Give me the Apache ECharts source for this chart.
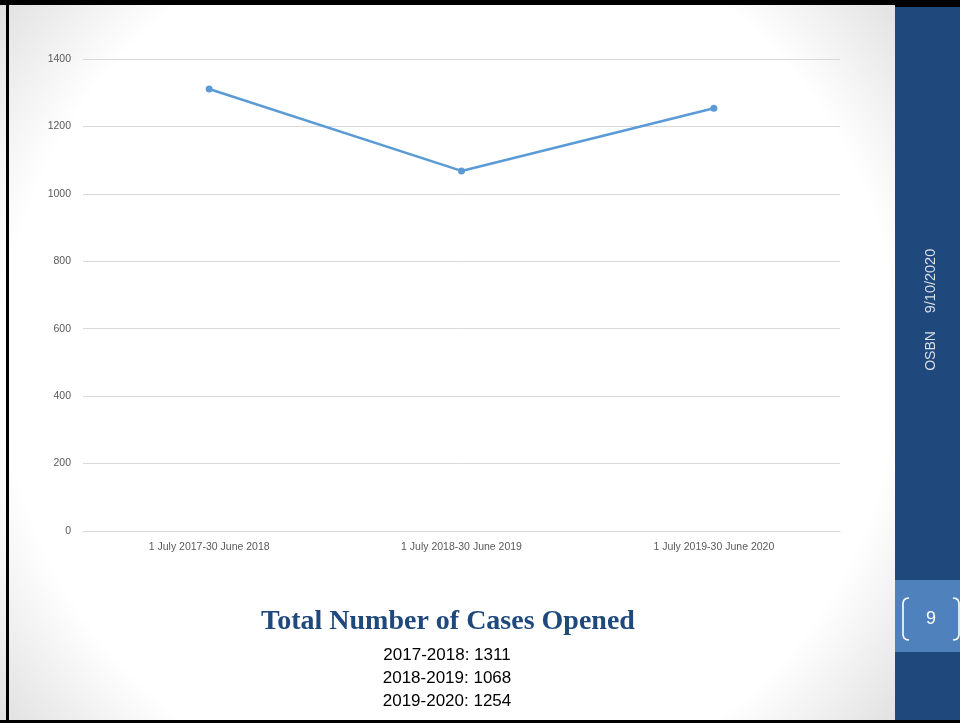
<!DOCTYPE html>
<html>
<head>
<meta charset="utf-8">
<script src="https://cdn.jsdelivr.net/npm/echarts@6/dist/echarts.min.js"></script>
<style>
html,body{margin:0;padding:0;background:#fff;}
#chart{width:960px;height:723px;}
</style>
</head>
<body>
<div id="chart"></div>
<script>
const categories = ['1 July 2017-30 June 2018', '1 July 2018-30 June 2019', '1 July 2019-30 June 2020'];
const casesOpened = [1311, 1068, 1254];
const yTicks = [0, 200, 400, 600, 800, 1000, 1200, 1400];
const titleText = 'Total Number of Cases Opened';
const summaryLines = ['2017-2018: 1311', '2018-2019: 1068', '2019-2020: 1254'];
const footerOrg = 'OSBN';
const footerDate = '9/10/2020';
const pageNumber = '9';

const chart = echarts.init(document.getElementById('chart'), null, {renderer: 'canvas'});

const graphics = [
  {type: 'rect', z: -10, silent: true, shape: {x: 0, y: 0, width: 960, height: 723},
   style: {fill: {type: 'radial', x: 450, y: 360, r: 620, global: true,
     colorStops: [{offset: 0, color: '#ffffff'}, {offset: 0.72, color: '#ffffff'}, {offset: 1, color: '#d6d6d6'}]}}},
  // sidebar
  {type: 'rect', z: 5, silent: true, shape: {x: 895, y: 0, width: 65, height: 723}, style: {fill: '#1F497D'}},
  {type: 'rect', z: 6, silent: true, shape: {x: 895, y: 580, width: 65, height: 72}, style: {fill: '#4F81BD'}},
  // border
  {type: 'rect', z: 20, silent: true, shape: {x: 0, y: 0, width: 895, height: 5}, style: {fill: '#000'}},
  {type: 'rect', z: 20, silent: true, shape: {x: 895, y: 0, width: 65, height: 7}, style: {fill: '#000'}},
  {type: 'rect', z: 20, silent: true, shape: {x: 6, y: 0, width: 3, height: 723}, style: {fill: '#000'}},
  {type: 'rect', z: 20, silent: true, shape: {x: 0, y: 720, width: 960, height: 3}, style: {fill: '#000'}},
  // rotated footer text
  {type: 'text', z: 10, silent: true, x: 931, y: 281, rotation: Math.PI / 2,
   style: {text: footerDate, fill: '#dcdfe6', font: '14.5px "Liberation Sans", sans-serif', align: 'center', verticalAlign: 'middle'}},
  {type: 'text', z: 10, silent: true, x: 931, y: 351, rotation: Math.PI / 2,
   style: {text: footerOrg, fill: '#dcdfe6', font: '14px "Liberation Sans", sans-serif', align: 'center', verticalAlign: 'middle'}},
  // page number brackets
  {type: 'polyline', z: 10, silent: true,
   shape: {points: [[909, 598], [906, 598.5], [904, 600], [903, 603], [903, 635], [904, 638], [906, 639.5], [909, 640]]},
   style: {stroke: '#ffffff', lineWidth: 1.6, fill: null}},
  {type: 'polyline', z: 10, silent: true,
   shape: {points: [[953, 598], [956, 598.5], [958, 600], [959, 603], [959, 635], [958, 638], [956, 639.5], [953, 640]]},
   style: {stroke: '#ffffff', lineWidth: 1.6, fill: null}},
  {type: 'text', z: 10, silent: true, x: 931, y: 619,
   style: {text: pageNumber, fill: '#ffffff', font: '18px "Liberation Sans", sans-serif', align: 'center', verticalAlign: 'middle'}},
  // title
  {type: 'text', z: 10, silent: true, x: 448, y: 622,
   style: {text: titleText, fill: '#1F497D', font: 'bold 28px "Liberation Serif", serif', align: 'center', verticalAlign: 'middle'}}
];
summaryLines.forEach((t, i) => {
  graphics.push({type: 'text', z: 10, silent: true, x: 447, y: 655 + i * 23,
    style: {text: t, fill: '#000000', font: '17px "Liberation Sans", sans-serif', align: 'center', verticalAlign: 'middle'}});
});

chart.setOption({
  animation: false,
  backgroundColor: 'transparent',
  grid: {left: 83, right: 120, top: 59, bottom: 192, containLabel: false},
  xAxis: {
    type: 'category',
    data: categories,
    boundaryGap: true,
    axisLine: {show: true, lineStyle: {color: '#d9d9d9', width: 1}},
    axisTick: {show: false},
    axisLabel: {color: '#595959', fontSize: 10.5, fontFamily: 'Liberation Sans', margin: 11}
  },
  yAxis: {
    type: 'value',
    min: yTicks[0],
    max: yTicks[yTicks.length - 1],
    interval: yTicks[1] - yTicks[0],
    axisLine: {show: false},
    axisTick: {show: false},
    splitLine: {lineStyle: {color: '#d9d9d9', width: 1}},
    axisLabel: {color: '#595959', fontSize: 10.5, fontFamily: 'Liberation Sans', margin: 12,
      formatter: v => String(v)}
  },
  series: [{
    type: 'line',
    data: casesOpened,
    symbol: 'circle',
    symbolSize: 7,
    itemStyle: {color: '#5B9BD5'},
    lineStyle: {color: '#5B9BD5', width: 2.5}
  }],
  graphic: graphics
});
</script>
</body>
</html>
